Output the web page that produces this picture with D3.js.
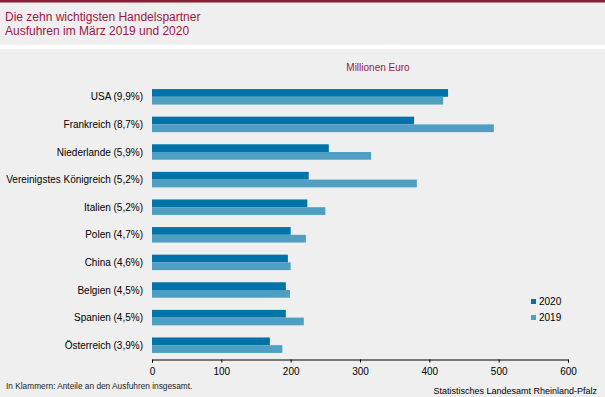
<!DOCTYPE html>
<html>
<head>
<meta charset="utf-8">
<script src="https://cdn.jsdelivr.net/npm/d3@7"></script>
<style>
  body { margin: 0; background: #eeefee; }
  svg { display: block; font-family: "Liberation Sans", Arial, sans-serif; }
  .axis path, .axis line { stroke: #000; }
  .axis text { font-size: 10px; fill: #000; }
</style>
</head>
<body>
<svg id="chart" width="605" height="397"></svg>
<script>
// partner countries, with their share of total exports
const partners = ["USA (9,9%)", "Frankreich (8,7%)", "Niederlande (5,9%)",
  "Vereinigstes Königreich (5,2%)", "Italien (5,2%)", "Polen (4,7%)", "China (4,6%)",
  "Belgien (4,5%)", "Spanien (4,5%)", "Österreich (3,9%)"];
// Millionen Euro
const values2020 = [427, 378, 255, 226, 224, 200, 196, 193, 193, 170];
const values2019 = [420, 493, 316, 382, 250, 222, 200, 199, 219, 188];
const years = ["2020", "2019"];
const xTicks = [0, 100, 200, 300, 400, 500, 600];

const colors = {"2020": "#0073a8", "2019": "#4f9fc3"};
const red = "#8b1c35";
const titleColor = "#9c1746";

const svg = d3.select("#chart");
const margin = {top: 83, right: 37, bottom: 38, left: 152};
const width = 605 - margin.left - margin.right;
const height = 397 - margin.top - margin.bottom;

// header band
svg.append("rect").attr("x", 0).attr("y", 0).attr("width", 605).attr("height", 397).attr("fill", "#eeefee");
svg.append("rect").attr("x", 0).attr("y", 0).attr("width", 605).attr("height", 2.5).attr("fill", red);
svg.append("rect").attr("x", 0).attr("y", 45).attr("width", 605).attr("height", 4).attr("fill", "#ffffff");

const title = svg.append("text").attr("x", 5).attr("y", 21)
  .attr("font-size", "12px").attr("fill", titleColor);
title.append("tspan").attr("x", 5).text("Die zehn wichtigsten Handelspartner");
title.append("tspan").attr("x", 5).attr("dy", 14).text("Ausfuhren im März 2019 und 2020");

svg.append("text").attr("x", 378).attr("y", 70.5)
  .attr("text-anchor", "middle").attr("font-size", "10px").attr("fill", titleColor)
  .text("Millionen Euro");

const g = svg.append("g").attr("transform", "translate(" + margin.left + "," + margin.top + ")");

const x = d3.scaleLinear().domain([0, 600]).range([0, width]);
const y = d3.scaleBand().domain(partners).range([0, height]).paddingInner(0.44).paddingOuter(0.22);
const ySub = d3.scaleBand().domain(years).range([0, y.bandwidth()]);

const rows = partners.map((p, i) => ({name: p, "2020": values2020[i], "2019": values2019[i]}));

const groups = g.selectAll("g.row").data(rows).enter()
  .append("g").attr("class", "row")
  .attr("transform", d => "translate(0," + y(d.name) + ")");

groups.selectAll("rect").data(d => years.map(k => ({year: k, value: d[k]}))).enter()
  .append("rect")
  .attr("x", x(0))
  .attr("y", d => ySub(d.year))
  .attr("width", d => x(d.value) - x(0))
  .attr("height", ySub.bandwidth())
  .attr("fill", d => colors[d.year]);

// category labels
g.selectAll("text.cat").data(partners).enter()
  .append("text").attr("class", "cat")
  .attr("x", -9)
  .attr("y", d => y(d) + y.bandwidth() / 2)
  .attr("dy", "0.35em")
  .attr("text-anchor", "end")
  .attr("font-size", "10px")
  .attr("fill", "#000")
  .text(d => d);

// x axis
const xAxis = d3.axisBottom(x).tickValues(xTicks).tickSize(3).tickSizeOuter(3).tickPadding(5);
g.append("g").attr("class", "axis")
  .attr("transform", "translate(0," + (height + 0.5) + ")")
  .call(xAxis);

// legend
const legend = svg.append("g").attr("transform", "translate(531,299)");
years.forEach((yr, i) => {
  legend.append("rect").attr("x", 0).attr("y", i * 16).attr("width", 5).attr("height", 5)
    .attr("fill", colors[yr]);
  legend.append("text").attr("x", 8).attr("y", i * 16 + 2.5).attr("dy", "0.35em")
    .attr("font-size", "10px").attr("fill", "#000").text(yr);
});

// footer
svg.append("text").attr("x", 6).attr("y", 389).attr("font-size", "8.3px").attr("fill", "#222")
  .text("In Klammern: Anteile an den Ausfuhren insgesamt.");
svg.append("text").attr("x", 597).attr("y", 394).attr("text-anchor", "end")
  .attr("font-size", "9px").attr("fill", "#000")
  .text("Statistisches Landesamt Rheinland-Pfalz");
</script>
</body>
</html>
